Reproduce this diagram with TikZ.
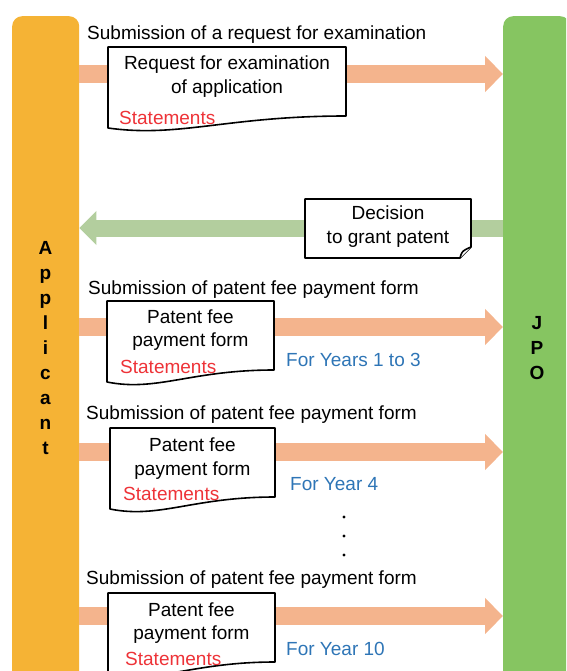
\documentclass[tikz,border=0pt]{standalone}
\usepackage{fontspec}
\setmainfont{Liberation Sans}
\usetikzlibrary{arrows.meta}
\definecolor{appOrange}{HTML}{F5B335}
\definecolor{jpoGreen}{HTML}{86C561}
\definecolor{fwdSalmon}{HTML}{F4B48D}
\definecolor{backGreen}{HTML}{B3CE9E}
\definecolor{stmtRed}{HTML}{EE3338}
\definecolor{yearBlue}{HTML}{2E75B6}
\tikzset{
  bar/.style={rounded corners=10pt, inner sep=0pt, minimum width=67pt, minimum height=700pt, anchor=north west},
  fwd/.style={draw=fwdSalmon, line width=18pt, -{Triangle[length=18pt,width=35pt]}},
  back/.style={draw=backGreen, line width=17pt, -{Triangle[length=17pt,width=33pt]}},
  docline/.style={draw=black, fill=white, line width=1.6pt, line join=round},
  doctext/.style={align=center, inner sep=0pt, yshift=-2pt},
  stmt/.style={text=stmtRed, anchor=west, inner sep=0pt, yshift=-1pt},
  years/.style={text=yearBlue, anchor=west, inner sep=0pt, yshift=-1pt},
  sublabel/.style={anchor=west, inner sep=0pt, yshift=-2pt},
}
% document outline with a wavy bottom: x1, top, x2, lower left corner
\newcommand\wavydoc[4]{\draw[docline] (#1,#2) -- (#3,#2) -- (#3,{#4-12})
  .. controls ({#3-0.5*(#3-#1)},{#4-12}) and ({#1+0.3*(#3-#1)},{#4+10}) .. (#1,#4) -- cycle;}
\begin{document}
\begin{tikzpicture}[x=1pt,y=-1pt,font=\fontsize{19}{23.5}\selectfont]
  \useasboundingbox (0,0) rectangle (566,671);
  \clip (0,0) rectangle (566,671);
  \node[bar, fill=appOrange] (app) at (12,16) {};
  \node[bar, fill=jpoGreen] (jpo) at (503,16) {};
  \node[align=center, inner sep=0pt, font=\fontsize{19}{25}\selectfont\bfseries] (applbl) at (45.5,348) {A\\p\\p\\l\\i\\c\\a\\n\\t};
  \node[align=center, inner sep=0pt, font=\fontsize{19}{25}\selectfont\bfseries] (jpolbl) at (537,348) {J\\P\\O};
  % arrow levels
  \coordinate (lv1) at (0,74);
  \coordinate (lv2) at (0,228);
  \coordinate (lv3) at (0,327);
  \coordinate (lv4) at (0,452);
  \coordinate (lv5) at (0,616);
  \draw[fwd] (app.east |- lv1) -- (jpo.west |- lv1);
  \draw[back] (jpo.west |- lv2) -- (app.east |- lv2);
  \draw[fwd] (app.east |- lv3) -- (jpo.west |- lv3);
  \draw[fwd] (app.east |- lv4) -- (jpo.west |- lv4);
  \draw[fwd] (app.east |- lv5) -- (jpo.west |- lv5);
  % request for examination
  \node[sublabel] (sub1) at (87,33) {Submission of a request for examination};
  \wavydoc{108}{47}{346}{128}
  \node[doctext] (req) at (227,74.5) {Request for examination\\of application};
  \node[stmt] (st1) at (119,117) {Statements};
  % decision
  \draw[docline] (305,199) -- (471,199) -- (471,247) -- (460,258) -- (305,258) -- cycle;
  \draw[docline] (460,258) .. controls (462,251) .. (471,247);
  \node[doctext] (dec) at (388,224.5) {Decision\\to grant patent};
  % patent fee, years 1 to 3
  \node[sublabel] (sub3) at (88,288) {Submission of patent fee payment form};
  \wavydoc{107}{301}{274}{382}
  \node[doctext] (fee3) at (190.5,328) {Patent fee\\payment form};
  \node[stmt] (st3) at (120,366) {Statements};
  \node[years] (yr3) at (286,359) {For Years 1 to 3};
  % patent fee, year 4
  \node[sublabel] (sub4) at (86,413) {Submission of patent fee payment form};
  \wavydoc{110}{428}{275}{509}
  \node[doctext] (fee4) at (192.5,456.5) {Patent fee\\payment form};
  \node[stmt] (st4) at (123,493) {Statements};
  \node[years] (yr4) at (290,483) {For Year 4};
  \foreach \y in {517,536,555} \fill (344,\y) circle (1.6);
  % patent fee, year 10
  \node[sublabel] (sub5) at (86,578) {Submission of patent fee payment form};
  \wavydoc{108}{593}{275}{674}
  \node[doctext] (fee5) at (191.5,621) {Patent fee\\payment form};
  \node[stmt] (st5) at (125,658) {Statements};
  \node[years] (yr5) at (286,648) {For Year 10};
\end{tikzpicture}
\end{document}
